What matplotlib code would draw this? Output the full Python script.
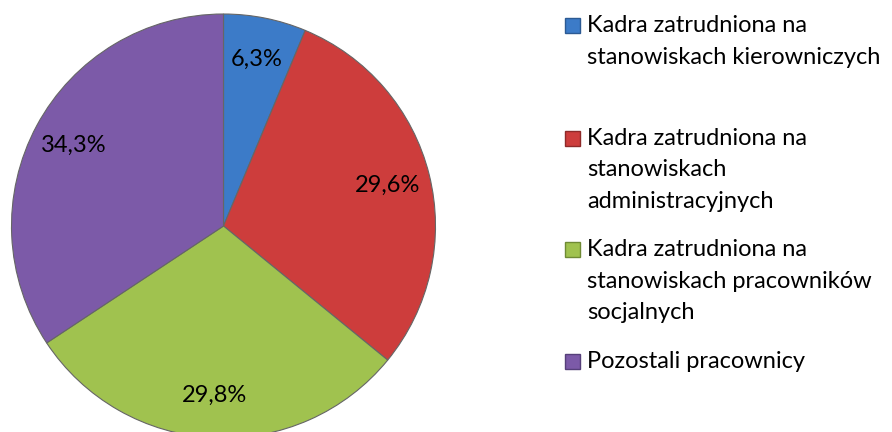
import matplotlib.pyplot as plt
from matplotlib.patches import Rectangle

# data
categories = [
    "Kadra zatrudniona na\nstanowiskach kierowniczych",
    "Kadra zatrudniona na\nstanowiskach\nadministracyjnych",
    "Kadra zatrudniona na\nstanowiskach pracowników\nsocjalnych",
    "Pozostali pracownicy",
]
shares = [6.3, 29.6, 29.8, 34.3]
colors = ["#3C7BC8", "#CD3D3C", "#A0C24F", "#7C5AA8"]
edge_colors = ["#2C5A93", "#8E2A29", "#6F8A35", "#56407A"]

plt.rcParams['font.family'] = ['Lato', 'DejaVu Sans']

fig = plt.figure(figsize=(8.92, 4.32), dpi=100)
ax = fig.add_axes([11.5 / 892, -6 / 432, 424 / 892, 424 / 432])

wedges, texts = ax.pie(
    shares,
    colors=colors,
    startangle=90,
    counterclock=False,
    radius=1,
    labels=[f"{v:.1f}%".replace(".", ",") for v in shares],
    labeldistance=0.8,
    wedgeprops=dict(linewidth=0.8, edgecolor="#666666"),
    textprops=dict(fontsize=17, color="black", ha="center", va="center"),
)
for t in texts:
    t.set_horizontalalignment("center")
ax.set_xlim(-1, 1)
ax.set_ylim(-1, 1)
ax.axis("off")

# legend drawn by hand to keep the uneven spacing of the original
baselines = [32, 145, 256, 368]  # pixel rows of first-line baselines
pitch = 31.5
for cat, col, ec, base in zip(categories, colors, edge_colors, baselines):
    y = 1 - base / 432
    fig.patches.append(Rectangle((565 / 892, y + (7 - 7.5) / 432), 15 / 892, 15 / 432,
                                 transform=fig.transFigure, facecolor=col,
                                 edgecolor=ec, linewidth=1))
    for i, line in enumerate(cat.split("\n")):
        fig.text(587 / 892, y - i * pitch / 432, line, fontsize=17,
                 va="baseline", ha="left")

fig.savefig("out.png", dpi=100)
